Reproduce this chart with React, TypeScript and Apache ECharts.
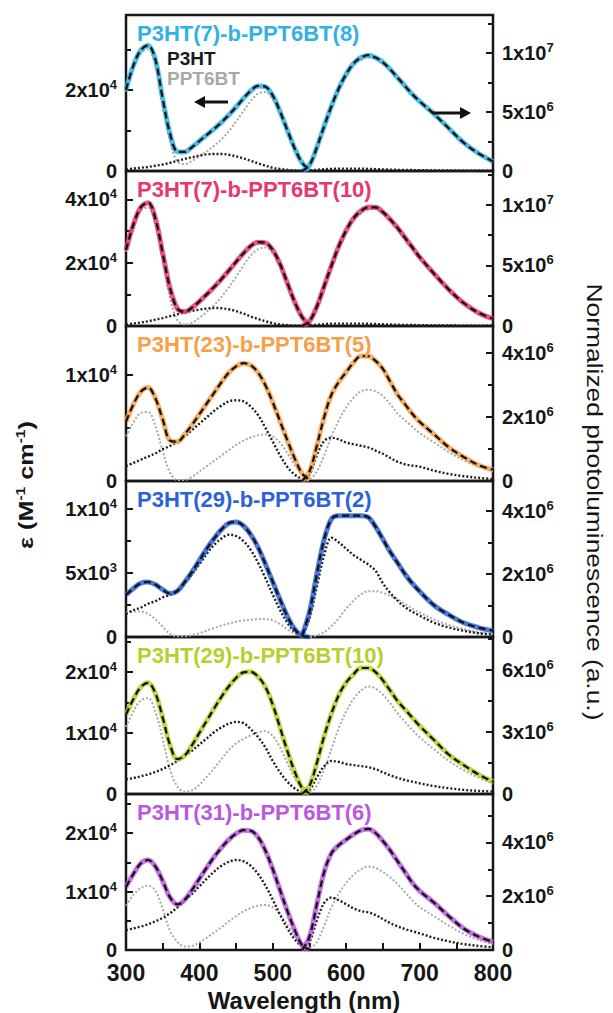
import React, { useEffect, useRef } from 'react';
import * as echarts from 'echarts';

// ---------- DATA ----------
// wavelengths (nm)
const absWl = [300, 310, 320, 330, 340, 350, 360, 370, 380, 390, 400, 410, 420, 430, 440, 450, 460, 470, 480, 490, 500, 510, 520, 530, 540, 550];
const plWl = [540, 550, 560, 570, 580, 590, 600, 610, 620, 630, 640, 650, 660, 670, 680, 690, 700, 720, 740, 760, 780, 800];

// absorption, epsilon in units of 1e3 M^-1 cm^-1 ; PL in units of 1e6 a.u.
// Panel 1: P3HT(7)-b-PPT6BT(8)
const p1AbsTotal = [20, 26, 29.8, 31, 27.5, 17.8, 9.2, 4.8, 4.7, 5.9, 7.4, 8.9, 10.4, 12, 13.8, 15.8, 17.9, 19.8, 21, 20.8, 18.6, 14.6, 10, 5.5, 2, 0.3];
const p1AbsP3HT = [0.4, 0.6, 0.8, 1.0, 1.3, 1.6, 2.0, 2.5, 3.0, 3.4, 3.8, 4.1, 4.2, 4.2, 4.0, 3.6, 3.1, 2.5, 1.9, 1.3, 0.8, 0.5, 0.3, 0.15, 0.05, 0];
const p1AbsPPT = [19.6, 25.4, 29, 30, 26.2, 16.2, 7.2, 2.3, 1.7, 2.5, 3.6, 4.8, 6.2, 7.8, 9.8, 12.2, 14.8, 17.3, 19.1, 19.5, 17.8, 14.1, 9.7, 5.35, 1.95, 0.3];
const p1PlTotal = [0, 0.5, 2.0, 3.8, 5.5, 7.0, 8.2, 9.1, 9.6, 9.8, 9.6, 9.2, 8.6, 7.9, 7.2, 6.5, 5.9, 4.8, 3.6, 2.4, 1.5, 0.8];
const p1PlP3HT = [0, 0.05, 0.1, 0.15, 0.18, 0.2, 0.2, 0.2, 0.2, 0.18, 0.16, 0.14, 0.12, 0.1, 0.09, 0.08, 0.07, 0.05, 0.04, 0.03, 0.02, 0.02];
const p1PlPPT = [0, 0.45, 1.9, 3.65, 5.3, 6.8, 8.0, 8.9, 9.4, 9.6, 9.45, 9.05, 8.5, 7.8, 7.1, 6.4, 5.8, 4.75, 3.55, 2.35, 1.45, 0.75];

// Panel 2: P3HT(7)-b-PPT6BT(10)
const p2AbsTotal = [24, 32, 37.5, 39, 34, 23, 12, 5.5, 4.5, 5.8, 7.8, 10, 12.3, 14.8, 17.5, 20.3, 23, 25.3, 26.5, 26.3, 24, 19.5, 13.5, 7.5, 2.8, 0.4];
const p2AbsP3HT = [0.5, 0.8, 1.1, 1.5, 2.0, 2.5, 3.1, 3.7, 4.3, 4.8, 5.2, 5.5, 5.7, 5.6, 5.3, 4.7, 3.9, 3.0, 2.2, 1.5, 0.9, 0.5, 0.25, 0.1, 0.05, 0];
const p2AbsPPT = [23.5, 31.2, 36.4, 37.5, 32, 20.5, 8.9, 1.8, 0.5, 1.0, 2.6, 4.5, 6.6, 9.2, 12.2, 15.6, 19.1, 22.3, 24.3, 24.8, 23.1, 19, 13.25, 7.4, 2.75, 0.4];
const p2PlTotal = [0, 0.4, 1.6, 3.3, 5.0, 6.6, 7.9, 8.9, 9.5, 9.8, 9.8, 9.4, 8.8, 8.1, 7.3, 6.5, 5.7, 4.3, 3.0, 1.9, 1.1, 0.6];
const p2PlP3HT = [0, 0.05, 0.1, 0.15, 0.2, 0.2, 0.2, 0.2, 0.2, 0.18, 0.16, 0.14, 0.12, 0.1, 0.09, 0.08, 0.07, 0.05, 0.04, 0.03, 0.02, 0.02];
const p2PlPPT = [0, 0.35, 1.5, 3.15, 4.8, 6.4, 7.7, 8.7, 9.3, 9.6, 9.65, 9.25, 8.7, 8.0, 7.2, 6.4, 5.6, 4.25, 2.95, 1.85, 1.05, 0.55];

// Panel 3: P3HT(23)-b-PPT6BT(5)
const p3AbsTotal = [5.6, 7.2, 8.4, 8.8, 7.8, 5.8, 3.8, 3.7, 4.4, 5.3, 6.3, 7.3, 8.3, 9.3, 10.2, 10.8, 11.1, 10.9, 10.2, 9.0, 7.4, 5.6, 3.8, 2.1, 0.7, 0.1];
const p3AbsP3HT = [1.4, 1.7, 2.0, 2.3, 2.6, 3.0, 3.3, 3.7, 4.2, 4.8, 5.4, 6.0, 6.6, 7.1, 7.5, 7.6, 7.5, 7.0, 6.2, 5.0, 3.7, 2.4, 1.3, 0.6, 0.2, 0.05];
const p3AbsPPT = [4.2, 5.5, 6.4, 6.5, 5.2, 2.8, 0.8, 0.1, 0.1, 0.4, 0.9, 1.4, 1.9, 2.4, 2.9, 3.4, 3.8, 4.1, 4.3, 4.4, 4.2, 3.6, 2.6, 1.5, 0.6, 0.1];
const p3PlTotal = [0, 0.3, 1.1, 2.0, 2.7, 3.1, 3.4, 3.7, 3.9, 3.9, 3.75, 3.5, 3.1, 2.7, 2.4, 2.1, 1.85, 1.45, 1.05, 0.75, 0.5, 0.35];
const p3PlP3HT = [0, 0.2, 0.8, 1.25, 1.35, 1.3, 1.2, 1.15, 1.1, 1.05, 0.95, 0.85, 0.72, 0.6, 0.52, 0.48, 0.45, 0.32, 0.22, 0.15, 0.1, 0.06];
const p3PlPPT = [0, 0.05, 0.3, 0.8, 1.4, 1.9, 2.3, 2.6, 2.8, 2.85, 2.8, 2.65, 2.4, 2.1, 1.9, 1.7, 1.5, 1.2, 0.9, 0.65, 0.45, 0.3];

// Panel 4: P3HT(29)-b-PPT6BT(2)
const p4AbsTotal = [3.3, 3.8, 4.2, 4.3, 4.1, 3.7, 3.4, 3.6, 4.3, 5.1, 6.0, 6.9, 7.7, 8.4, 8.9, 9.0, 8.7, 8.0, 7.0, 5.7, 4.3, 2.9, 1.6, 0.6, 0.1, 0];
const p4AbsP3HT = [1.8, 2.1, 2.3, 2.6, 2.8, 3.1, 3.3, 3.6, 4.2, 4.9, 5.7, 6.5, 7.2, 7.7, 8.0, 7.9, 7.5, 6.8, 5.8, 4.6, 3.3, 2.1, 1.1, 0.4, 0.1, 0];
const p4AbsPPT = [1.9, 2.0, 2.0, 1.8, 1.4, 0.8, 0.25, 0.05, 0.05, 0.15, 0.3, 0.5, 0.7, 0.9, 1.05, 1.2, 1.3, 1.35, 1.4, 1.4, 1.3, 1.0, 0.6, 0.25, 0.05, 0];
const p4PlTotal = [0.05, 0.8, 2.0, 3.1, 3.75, 3.85, 3.85, 3.85, 3.85, 3.8, 3.5, 3.1, 2.7, 2.35, 2.0, 1.7, 1.45, 1.0, 0.7, 0.45, 0.3, 0.2];
const p4PlP3HT = [0, 0.6, 1.6, 2.6, 3.15, 3.0, 2.8, 2.6, 2.45, 2.3, 2.1, 1.7, 1.4, 1.15, 0.95, 0.8, 0.68, 0.45, 0.3, 0.2, 0.12, 0.08];
const p4PlPPT = [0, 0, 0.05, 0.15, 0.35, 0.6, 0.9, 1.15, 1.35, 1.45, 1.45, 1.4, 1.3, 1.2, 1.05, 0.9, 0.78, 0.55, 0.38, 0.25, 0.15, 0.1];

// Panel 5: P3HT(29)-b-PPT6BT(10)
const p5AbsTotal = [13, 15.5, 17.5, 18.2, 16.5, 12.5, 8, 5.7, 6.3, 8, 10, 12, 14, 15.9, 17.6, 19, 19.9, 20, 19.2, 17.5, 14.6, 10.8, 7.0, 3.6, 1.0, 0.1];
const p5AbsP3HT = [2.4, 2.6, 2.9, 3.2, 3.6, 4.1, 4.7, 5.4, 6.2, 7.1, 8.1, 9.1, 10.1, 10.9, 11.5, 11.8, 11.6, 10.6, 9.3, 7.6, 5.4, 3.5, 2.0, 0.9, 0.3, 0.05];
const p5AbsPPT = [11, 13.5, 15.3, 15.7, 13.5, 9, 4, 1.2, 0.4, 0.6, 1.5, 2.8, 4.2, 5.7, 7.2, 8.3, 9.0, 9.6, 10.1, 10.3, 9.5, 7.6, 5.0, 2.6, 0.8, 0.1];
const p5PlTotal = [0, 0.4, 1.5, 2.8, 3.9, 4.8, 5.4, 5.8, 6.1, 6.1, 5.9, 5.5, 5.0, 4.5, 4.1, 3.7, 3.3, 2.6, 1.9, 1.4, 0.95, 0.6];
const p5PlP3HT = [0, 0.2, 0.8, 1.35, 1.6, 1.55, 1.45, 1.4, 1.35, 1.3, 1.2, 1.05, 0.9, 0.78, 0.68, 0.6, 0.52, 0.38, 0.28, 0.2, 0.15, 0.12];
const p5PlPPT = [0, 0.05, 0.4, 1.2, 2.2, 3.2, 4.0, 4.6, 5.0, 5.2, 5.1, 4.8, 4.4, 3.9, 3.5, 3.1, 2.75, 2.15, 1.6, 1.15, 0.8, 0.5];

// Panel 6: P3HT(31)-b-PPT6BT(6)
const p6AbsTotal = [10.8, 13, 14.8, 15.4, 14.3, 11.8, 9.0, 7.8, 8.6, 10.3, 12.2, 14.1, 15.9, 17.5, 18.9, 19.9, 20.5, 20.4, 19.3, 17.0, 13.8, 10.2, 6.6, 3.4, 0.8, 0.1];
const p6AbsP3HT = [3.4, 3.7, 4.0, 4.4, 4.9, 5.5, 6.3, 7.3, 8.4, 9.6, 10.9, 12.2, 13.4, 14.4, 15.1, 15.4, 15.2, 14.4, 13.0, 11.0, 8.6, 6.0, 3.7, 1.8, 0.6, 0.1];
const p6AbsPPT = [7.6, 9.4, 10.6, 11.0, 10.2, 7.0, 3.3, 1.4, 0.6, 0.7, 1.3, 2.1, 3.0, 3.9, 4.9, 5.8, 6.6, 7.2, 7.6, 7.7, 7.3, 6.1, 4.3, 2.4, 0.9, 0.2];
const p6PlTotal = [0, 0.5, 1.7, 2.9, 3.6, 3.9, 4.1, 4.3, 4.45, 4.5, 4.35, 4.05, 3.7, 3.3, 2.9, 2.5, 2.2, 1.75, 1.25, 0.8, 0.5, 0.3];
const p6PlP3HT = [0, 0.3, 1.1, 1.75, 1.95, 1.85, 1.7, 1.55, 1.45, 1.4, 1.3, 1.15, 1.0, 0.88, 0.78, 0.7, 0.62, 0.45, 0.32, 0.22, 0.15, 0.1];
const p6PlPPT = [0, 0.05, 0.3, 0.9, 1.6, 2.1, 2.5, 2.8, 3.0, 3.1, 3.05, 2.9, 2.7, 2.45, 2.15, 1.85, 1.6, 1.25, 0.9, 0.6, 0.38, 0.22];

const titles = ['P3HT(7)-b-PPT6BT(8)', 'P3HT(7)-b-PPT6BT(10)', 'P3HT(23)-b-PPT6BT(5)', 'P3HT(29)-b-PPT6BT(2)', 'P3HT(29)-b-PPT6BT(10)', 'P3HT(31)-b-PPT6BT(6)'];
const absTotals = [p1AbsTotal, p2AbsTotal, p3AbsTotal, p4AbsTotal, p5AbsTotal, p6AbsTotal];
const absP3HT = [p1AbsP3HT, p2AbsP3HT, p3AbsP3HT, p4AbsP3HT, p5AbsP3HT, p6AbsP3HT];
const absPPT = [p1AbsPPT, p2AbsPPT, p3AbsPPT, p4AbsPPT, p5AbsPPT, p6AbsPPT];
const plTotals = [p1PlTotal, p2PlTotal, p3PlTotal, p4PlTotal, p5PlTotal, p6PlTotal];
const plP3HT = [p1PlP3HT, p2PlP3HT, p3PlP3HT, p4PlP3HT, p5PlP3HT, p6PlP3HT];
const plPPT = [p1PlPPT, p2PlPPT, p3PlPPT, p4PlPPT, p5PlPPT, p6PlPPT];

// axis ranges (left: 1e3 units, right: 1e6 units)
const leftMax = [38.5, 49, 14.6, 12.2, 25.7, 26.7];
const leftMajor = [20, 20, 10, 5, 10, 10];
const rightMax = [13.2, 12.8, 4.84, 4.95, 7.6, 5.8];
const rightMajor = [5, 5, 2, 2, 3, 2];
const xTicks = { min: 300, max: 800, major: 100 };

// ---------- STYLE / LAYOUT ----------
const colors = ['#33b0e4', '#e8376f', '#f6a04a', '#2c62d8', '#b7cf2c', '#bb58e0'];
const FONT = '"Liberation Sans", Arial, Helvetica, sans-serif';
const tops = [15, 171, 326, 481, 637, 794];
const heights = [156, 155, 155, 156, 157, 156];
const GL = 126;
const GW = 367;
const INK = '#161616';

const sci = (v: number, unitExp: number, major: number) => {
  const r = v / major;
  if (Math.abs(r - Math.round(r)) > 1e-6) return '';
  if (Math.abs(v) < 1e-9) return '{m|0}';
  const real = v * Math.pow(10, unitExp);
  const e = Math.floor(Math.log10(real) + 1e-9);
  const m = Math.round(real / Math.pow(10, e));
  return `{m|${m}x10}{e|${e}}`;
};

const rich = {
  m: { fontSize: 20, fontWeight: 'bold', fontFamily: FONT, color: INK, lineHeight: 24 },
  e: { fontSize: 13, fontWeight: 'bold', fontFamily: FONT, color: INK, lineHeight: 13, verticalAlign: 'top' },
};

const pairs = (xs: number[], ys: number[]) => xs.map((x, i) => [x, ys[i]]);

export default function App() {
  const ref = useRef<HTMLDivElement>(null);
  useEffect(() => {
    if (!ref.current) return;
    const chart = echarts.init(ref.current, null, { renderer: 'svg' });
    const grid: any[] = [];
    const xAxis: any[] = [];
    const yAxis: any[] = [];
    const series: any[] = [];
    const tickStyle = { color: INK, width: 2 };
    for (let i = 0; i < 6; i++) {
      const last = i === 5;
      grid.push({ left: GL, width: GW, top: tops[i], height: heights[i], show: true, borderColor: INK, borderWidth: 2.5, backgroundColor: 'transparent' });
      xAxis.push({
        type: 'value', gridIndex: i, min: xTicks.min, max: xTicks.max, interval: xTicks.major,
        axisLine: { show: false },
        axisTick: { show: last, inside: true, length: 7, lineStyle: tickStyle },
        minorTick: { show: last, splitNumber: 2, length: 7, lineStyle: tickStyle },
        splitLine: { show: false },
        axisLabel: { show: last, fontSize: 23, fontWeight: 'bold', color: INK, fontFamily: FONT, margin: 11 },
      });
      yAxis.push({
        type: 'value', gridIndex: i, position: 'left', min: 0, max: leftMax[i], interval: leftMajor[i],
        axisLine: { show: false },
        axisTick: { show: true, inside: true, length: 7, lineStyle: tickStyle },
        minorTick: { show: true, splitNumber: 2, length: 5, lineStyle: tickStyle },
        splitLine: { show: false },
        axisLabel: { margin: 9, formatter: (v: number) => sci(v, 3, leftMajor[i]), rich },
      });
      yAxis.push({
        type: 'value', gridIndex: i, position: 'right', min: 0, max: rightMax[i], interval: rightMajor[i],
        axisLine: { show: false },
        axisTick: { show: true, inside: true, length: 7, lineStyle: tickStyle },
        minorTick: { show: true, splitNumber: 2, length: 5, lineStyle: tickStyle },
        splitLine: { show: false },
        axisLabel: { margin: 9, formatter: (v: number) => sci(v, 6, rightMajor[i]), rich },
      });
      const mk = (data: number[][], yi: number, lineStyle: any, z: number) => ({
        type: 'line', xAxisIndex: i, yAxisIndex: yi, data, smooth: 0.35, symbol: 'none', showSymbol: false,
        lineStyle, z, silent: true, animation: false,
      });
      const greyStyle = { color: '#a9a9a9', width: 2, type: [2, 2] };
      const blackDot = { color: '#202020', width: 2.4, type: [2, 2] };
      const dataStyle = { color: colors[i], width: 5, opacity: 0.85 };
      const fitStyle = { color: '#111', width: 2.2, type: [7, 4] };
      const L = 2 * i, R = 2 * i + 1;
      series.push(mk(pairs(absWl, absPPT[i]), L, greyStyle, 2));
      series.push(mk(pairs(plWl, plPPT[i]), R, greyStyle, 2));
      series.push(mk(pairs(absWl, absP3HT[i]), L, blackDot, 3));
      series.push(mk(pairs(plWl, plP3HT[i]), R, blackDot, 3));
      series.push(mk(pairs(absWl, absTotals[i]), L, dataStyle, 4));
      series.push(mk(pairs(plWl, plTotals[i]), R, dataStyle, 4));
      series.push(mk(pairs(absWl, absTotals[i]), L, fitStyle, 5));
      series.push(mk(pairs(plWl, plTotals[i]), R, fitStyle, 5));
    }

    const graphic: any[] = [];
    titles.forEach((t, i) => {
      graphic.push({
        type: 'text', x: 137, y: tops[i] + 18, z: 10,
        style: { text: t, fill: colors[i], font: `bold 22px ${FONT}`, align: 'left', verticalAlign: 'middle' },
      });
    });
    graphic.push({ type: 'text', x: 167, y: 58, z: 10, style: { text: 'P3HT', fill: '#1a1a1a', font: `bold 19px ${FONT}`, align: 'left', verticalAlign: 'middle' } });
    graphic.push({ type: 'text', x: 167, y: 78, z: 10, style: { text: 'PPT6BT', fill: '#a8a8a8', font: `bold 19px ${FONT}`, align: 'left', verticalAlign: 'middle' } });
    // arrows
    graphic.push({ type: 'line', z: 10, shape: { x1: 202, y1: 102, x2: 228, y2: 102 }, style: { stroke: '#111', lineWidth: 3 } });
    graphic.push({ type: 'polygon', z: 10, shape: { points: [[194, 102], [205, 96], [205, 108]] }, style: { fill: '#111' } });
    graphic.push({ type: 'line', z: 10, shape: { x1: 433, y1: 113, x2: 462, y2: 113 }, style: { stroke: '#111', lineWidth: 3 } });
    graphic.push({ type: 'polygon', z: 10, shape: { points: [[471, 113], [460, 107], [460, 119]] }, style: { fill: '#111' } });
    // axis names
    graphic.push({
      type: 'text', x: 304, y: 1000, z: 10,
      style: { text: 'Wavelength (nm)', fill: INK, font: `bold 24px ${FONT}`, align: 'center', verticalAlign: 'middle' },
    });
    graphic.push({
      type: 'text', x: 26, y: 485, rotation: Math.PI / 2, scaleX: 1.2, z: 10,
      style: {
        text: '{a|ε (M}{s|-1}{a| cm}{s|-1}{a|)}', align: 'center', verticalAlign: 'middle',
        rich: {
          a: { fontSize: 21, fontWeight: 'bold', fontFamily: FONT, fill: INK, lineHeight: 24 },
          s: { fontSize: 13, fontWeight: 'bold', fontFamily: FONT, fill: INK, lineHeight: 13, verticalAlign: 'top' },
        },
      },
    });
    graphic.push({
      type: 'text', x: 595, y: 502, rotation: -Math.PI / 2, scaleX: 1.2, z: 10,
      style: { text: 'Normalized photoluminescence (a.u.)', fill: INK, font: `22px ${FONT}`, align: 'center', verticalAlign: 'middle' },
    });

    chart.setOption({
      animation: false,
      backgroundColor: '#ffffff',
      grid, xAxis, yAxis, series, graphic,
    });
    return () => chart.dispose();
  }, []);
  return <div ref={ref} style={{ position: 'fixed', left: 0, top: 0, width: 613, height: 1013 }} />;
}
